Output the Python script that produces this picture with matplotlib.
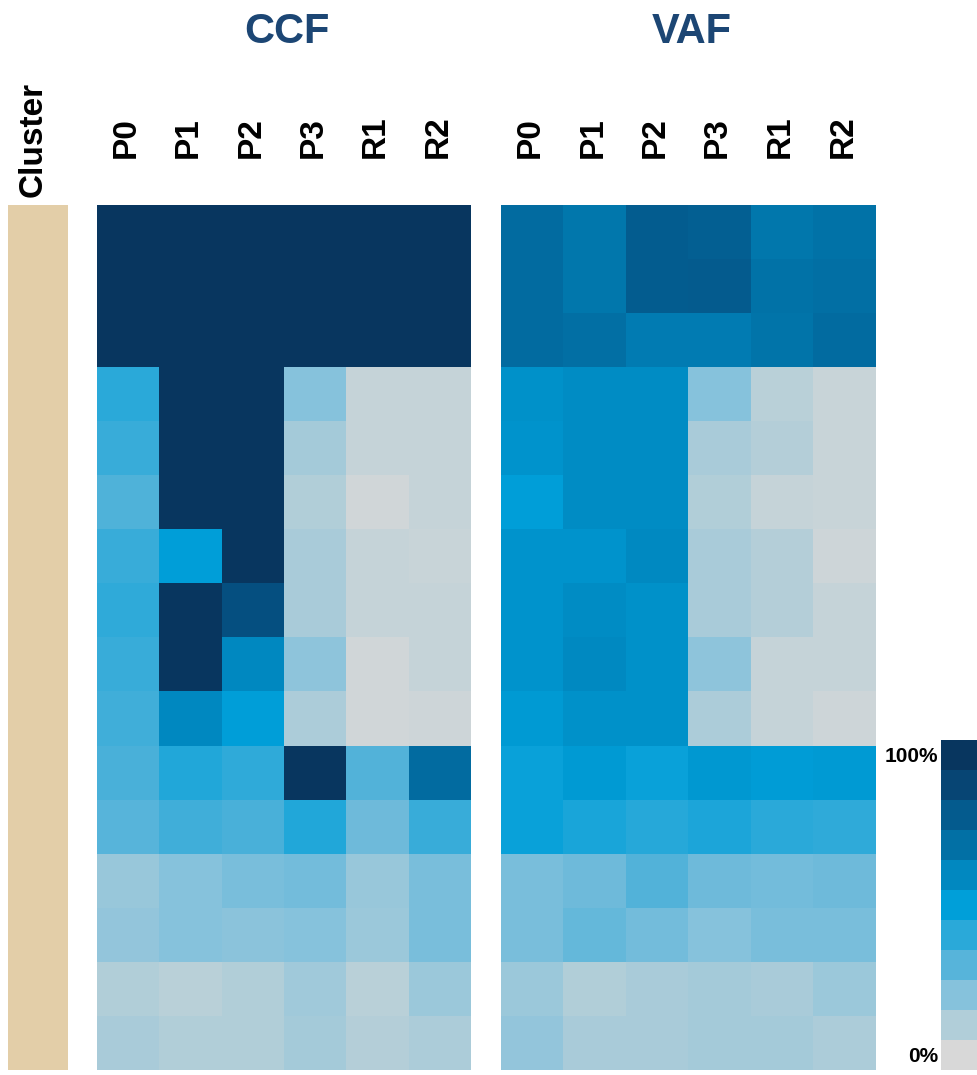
import numpy as np
import matplotlib.pyplot as plt
from matplotlib.colors import LinearSegmentedColormap, ListedColormap, BoundaryNorm
from matplotlib.cm import ScalarMappable

plt.rcParams['font.family'] = ['Liberation Sans', 'DejaVu Sans']

samples = ['P0', 'P1', 'P2', 'P3', 'R1', 'R2']

# cancer cell fraction per cluster (rows) and sample (columns), 0..1
ccf = [
    [1.00, 1.00, 1.00, 1.00, 1.00, 1.00],
    [1.00, 1.00, 1.00, 1.00, 1.00, 1.00],
    [1.00, 1.00, 1.00, 1.00, 1.00, 1.00],
    [0.40, 1.00, 1.00, 0.20, 0.05, 0.05],
    [0.37, 1.00, 1.00, 0.13, 0.05, 0.05],
    [0.32, 1.00, 1.00, 0.10, 0.02, 0.05],
    [0.37, 0.50, 1.00, 0.12, 0.05, 0.04],
    [0.39, 1.00, 0.85, 0.12, 0.05, 0.05],
    [0.37, 1.00, 0.60, 0.18, 0.02, 0.05],
    [0.35, 0.60, 0.50, 0.11, 0.02, 0.03],
    [0.33, 0.42, 0.39, 1.00, 0.31, 0.72],
    [0.30, 0.35, 0.33, 0.42, 0.25, 0.37],
    [0.16, 0.20, 0.23, 0.24, 0.16, 0.23],
    [0.17, 0.20, 0.19, 0.20, 0.15, 0.23],
    [0.10, 0.08, 0.10, 0.14, 0.08, 0.15],
    [0.12, 0.10, 0.10, 0.13, 0.09, 0.11],
]

# variant allele frequency, scaled to the same 0..1 colour range
vaf = [
    [0.72, 0.67, 0.79, 0.78, 0.67, 0.69],
    [0.72, 0.67, 0.79, 0.80, 0.69, 0.70],
    [0.72, 0.70, 0.65, 0.65, 0.68, 0.72],
    [0.56, 0.58, 0.58, 0.20, 0.08, 0.04],
    [0.55, 0.58, 0.58, 0.12, 0.09, 0.04],
    [0.50, 0.58, 0.58, 0.10, 0.05, 0.04],
    [0.55, 0.55, 0.59, 0.12, 0.09, 0.03],
    [0.55, 0.58, 0.56, 0.12, 0.09, 0.05],
    [0.55, 0.59, 0.56, 0.18, 0.05, 0.05],
    [0.52, 0.56, 0.56, 0.11, 0.05, 0.03],
    [0.48, 0.52, 0.48, 0.53, 0.51, 0.52],
    [0.48, 0.44, 0.41, 0.43, 0.40, 0.39],
    [0.23, 0.25, 0.31, 0.25, 0.24, 0.25],
    [0.23, 0.27, 0.24, 0.20, 0.23, 0.23],
    [0.15, 0.10, 0.12, 0.13, 0.12, 0.15],
    [0.17, 0.12, 0.12, 0.13, 0.13, 0.11],
]

clusters = [1] * 16

palette = ['#d8d8d8', '#b1ced9', '#86c2dc', '#57b4da', '#2aa9d9', '#009fd9',
           '#0188c0', '#0270a5', '#045b8e', '#074574', '#08365f']
cmap = LinearSegmentedColormap.from_list('ccf', palette)
title_color = '#1c4674'

W, H = 977, 1075
fig = plt.figure(figsize=(W / 100, H / 100), dpi=100)


def box(x0, y0, x1, y1):
    return [x0 / W, 1 - y1 / H, (x1 - x0) / W, (y1 - y0) / H]


# cluster annotation strip
ax_cl = fig.add_axes(box(8, 205, 68, 1070))
ax_cl.imshow(np.array(clusters)[:, None], aspect='auto',
             cmap=ListedColormap(['#e3cea8']), interpolation='nearest')
ax_cl.axis('off')
fig.text(33 / W, 1 - 197 / H, 'Cluster', rotation=90, ha='center', va='bottom',
         fontsize=24, fontweight='bold')

panels = [('CCF', ccf, 97, 471), ('VAF', vaf, 501, 876)]
for name, data, x0, x1 in panels:
    ax = fig.add_axes(box(x0, 205, x1, 1070))
    ax.imshow(np.array(data), aspect='auto', cmap=cmap, vmin=0, vmax=1,
              interpolation='nearest')
    ax.axis('off')
    colw = (x1 - x0) / len(samples)
    for i, s in enumerate(samples):
        fig.text((x0 + colw * (i + 0.5) - 2) / W, 1 - 158 / H, s, rotation=90,
                 ha='center', va='bottom', fontsize=24, fontweight='bold')
    fig.text(((x0 + x1) / 2 + 3) / W, 1 - 32 / H, name, ha='center', va='center',
             fontsize=30, fontweight='bold', color=title_color)

# discrete legend bar
cax = fig.add_axes(box(941, 740, 977, 1070))
bounds = np.linspace(-0.05, 1.05, 12)
sm = ScalarMappable(norm=BoundaryNorm(bounds, 11), cmap=ListedColormap(palette))
cb = fig.colorbar(sm, cax=cax, ticks=[0, 1])
cb.outline.set_visible(False)
cb.ax.minorticks_off()
cb.ax.yaxis.set_ticks_position('left')
cb.ax.tick_params(which='both', length=0, pad=2)
cb.ax.set_yticklabels(['0%', '100%'], fontsize=15, fontweight='bold')

fig.savefig('out.png', dpi=100)
